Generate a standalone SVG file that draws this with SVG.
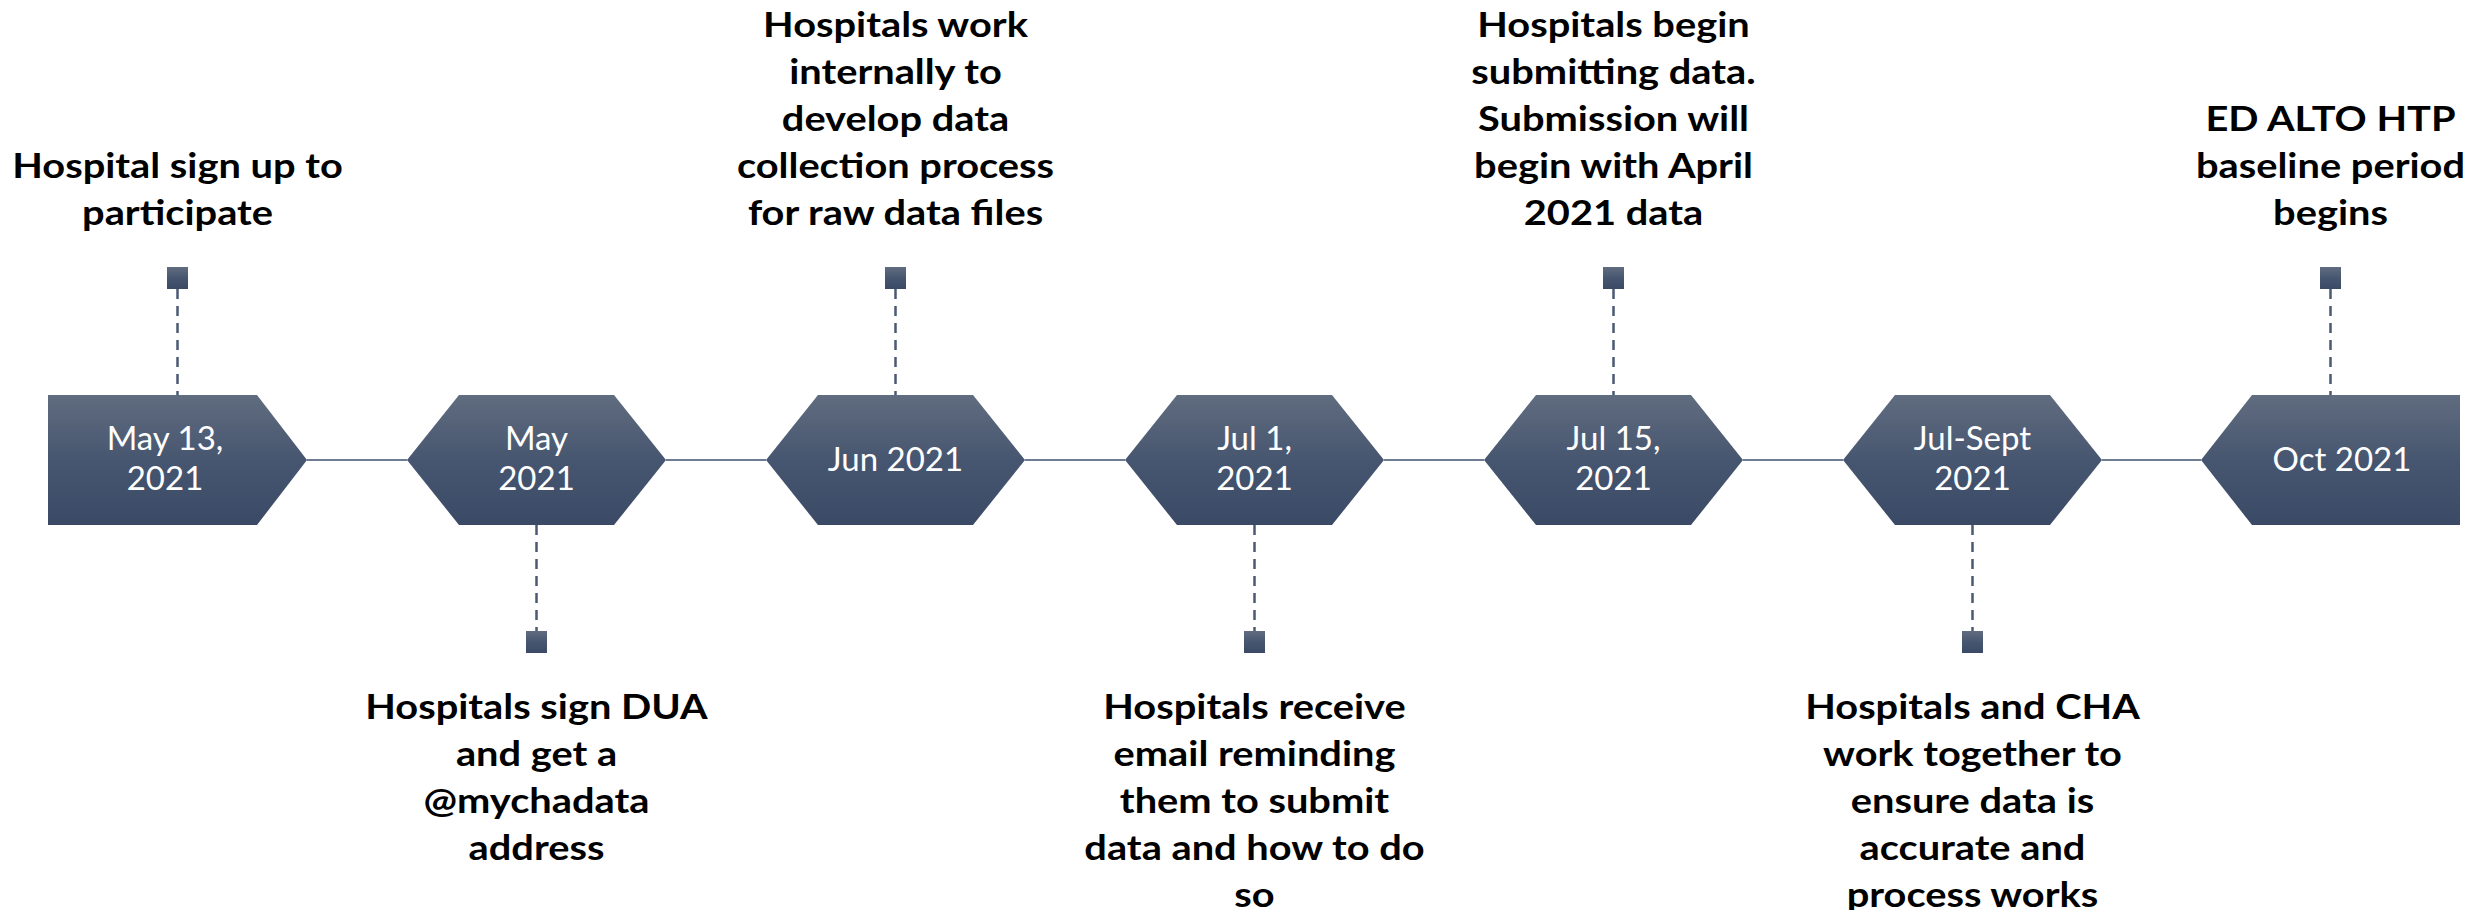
<svg xmlns="http://www.w3.org/2000/svg" width="2489" height="910" viewBox="0 0 2489 910">
  <defs>
    <linearGradient id="slate" x1="0" y1="0" x2="0" y2="1">
      <stop offset="0" stop-color="#606c7f"/>
      <stop offset="0.5" stop-color="#475670"/>
      <stop offset="1" stop-color="#3a4965"/>
    </linearGradient>
    <style>
      .node { fill: url(#slate); }
      .date { font-family: Lato, Carlito, "Liberation Sans", sans-serif; font-size: 33px; fill: #ffffff; text-anchor: middle; }
      .desc { font-family: Lato, Carlito, "Liberation Sans", sans-serif; font-weight: 700; font-size: 34px; fill: #000000; text-anchor: middle; }
      .pin { fill: url(#slate); }
      .axis { stroke: #6f7d94; stroke-width: 2; fill: none; }
      .lead { stroke: #4b5a73; stroke-width: 2.5; stroke-dasharray: 10 7; fill: none; }
    </style>
  </defs>
  <rect width="2489" height="910" fill="#ffffff"/>

  <!-- connectors: axis segments and dashed leaders -->
  <g id="connectors">
    <line class="axis" x1="307" y1="460" x2="407" y2="460"/>
    <line class="axis" x1="666" y1="460" x2="766" y2="460"/>
    <line class="axis" x1="1025" y1="460" x2="1125" y2="460"/>
    <line class="axis" x1="1384" y1="460" x2="1484" y2="460"/>
    <line class="axis" x1="1743" y1="460" x2="1843" y2="460"/>
    <line class="axis" x1="2102" y1="460" x2="2201" y2="460"/>
    <line class="lead" x1="177.5" y1="289" x2="177.5" y2="395"/>
    <line class="lead" x1="536.5" y1="525" x2="536.5" y2="631"/>
    <line class="lead" x1="895.5" y1="289" x2="895.5" y2="395"/>
    <line class="lead" x1="1254.5" y1="525" x2="1254.5" y2="631"/>
    <line class="lead" x1="1613.5" y1="289" x2="1613.5" y2="395"/>
    <line class="lead" x1="1972.5" y1="525" x2="1972.5" y2="631"/>
    <line class="lead" x1="2330.5" y1="289" x2="2330.5" y2="395"/>
  </g>

  <!-- May 13, 2021 -->
  <g id="node-may13">
    <polygon class="node" points="48,395 257,395 307,460 257,525 48,525"/>
    <text class="date" x="165" y="450">May 13,</text>
    <text class="date" x="165" y="490">2021</text>
    <rect class="pin" x="167" y="267" width="21" height="22"/>
    <g transform="translate(177.5 0) scale(1.17 1)">
      <text class="desc" x="0" y="178">Hospital sign up to</text>
      <text class="desc" x="0" y="225">participate</text>
    </g>
  </g>

  <!-- May 2021 -->
  <g id="node-may">
    <polygon class="node" points="407,460 459,395 614,395 666,460 614,525 459,525"/>
    <text class="date" x="536.5" y="450">May</text>
    <text class="date" x="536.5" y="490">2021</text>
    <rect class="pin" x="526" y="631" width="21" height="22"/>
    <g transform="translate(536.5 0) scale(1.17 1)">
      <text class="desc" x="0" y="719">Hospitals sign DUA</text>
      <text class="desc" x="0" y="766">and get a</text>
      <text class="desc" x="0" y="813">@mychadata</text>
      <text class="desc" x="0" y="860">address</text>
    </g>
  </g>

  <!-- Jun 2021 -->
  <g id="node-jun">
    <polygon class="node" points="766,460 818,395 973,395 1025,460 973,525 818,525"/>
    <text class="date" x="895.5" y="471">Jun 2021</text>
    <rect class="pin" x="885" y="267" width="21" height="22"/>
    <g transform="translate(895.5 0) scale(1.17 1)">
      <text class="desc" x="0" y="37">Hospitals work</text>
      <text class="desc" x="0" y="84">internally to</text>
      <text class="desc" x="0" y="131">develop data</text>
      <text class="desc" x="0" y="178">collection process</text>
      <text class="desc" x="0" y="225">for raw data files</text>
    </g>
  </g>

  <!-- Jul 1, 2021 -->
  <g id="node-jul1">
    <polygon class="node" points="1125,460 1177,395 1332,395 1384,460 1332,525 1177,525"/>
    <text class="date" x="1254.5" y="450">Jul 1,</text>
    <text class="date" x="1254.5" y="490">2021</text>
    <rect class="pin" x="1244" y="631" width="21" height="22"/>
    <g transform="translate(1254.5 0) scale(1.17 1)">
      <text class="desc" x="0" y="719">Hospitals receive</text>
      <text class="desc" x="0" y="766">email reminding</text>
      <text class="desc" x="0" y="813">them to submit</text>
      <text class="desc" x="0" y="860">data and how to do</text>
      <text class="desc" x="0" y="907">so</text>
    </g>
  </g>

  <!-- Jul 15, 2021 -->
  <g id="node-jul15">
    <polygon class="node" points="1484,460 1536,395 1691,395 1743,460 1691,525 1536,525"/>
    <text class="date" x="1613.5" y="450">Jul 15,</text>
    <text class="date" x="1613.5" y="490">2021</text>
    <rect class="pin" x="1603" y="267" width="21" height="22"/>
    <g transform="translate(1613.5 0) scale(1.17 1)">
      <text class="desc" x="0" y="37">Hospitals begin</text>
      <text class="desc" x="0" y="84">submitting data.</text>
      <text class="desc" x="0" y="131">Submission will</text>
      <text class="desc" x="0" y="178">begin with April</text>
      <text class="desc" x="0" y="225">2021 data</text>
    </g>
  </g>

  <!-- Jul-Sept 2021 -->
  <g id="node-julsept">
    <polygon class="node" points="1843,460 1895,395 2050,395 2102,460 2050,525 1895,525"/>
    <text class="date" x="1972.5" y="450">Jul-Sept</text>
    <text class="date" x="1972.5" y="490">2021</text>
    <rect class="pin" x="1962" y="631" width="21" height="22"/>
    <g transform="translate(1972.5 0) scale(1.17 1)">
      <text class="desc" x="0" y="719">Hospitals and CHA</text>
      <text class="desc" x="0" y="766">work together to</text>
      <text class="desc" x="0" y="813">ensure data is</text>
      <text class="desc" x="0" y="860">accurate and</text>
      <text class="desc" x="0" y="907">process works</text>
    </g>
  </g>

  <!-- Oct 2021 -->
  <g id="node-oct">
    <polygon class="node" points="2201,460 2252,395 2460,395 2460,525 2252,525"/>
    <text class="date" x="2342" y="471">Oct 2021</text>
    <rect class="pin" x="2320" y="267" width="21" height="22"/>
    <g transform="translate(2330.5 0) scale(1.17 1)">
      <text class="desc" x="0" y="131">ED ALTO HTP</text>
      <text class="desc" x="0" y="178">baseline period</text>
      <text class="desc" x="0" y="225">begins</text>
    </g>
  </g>
</svg>
